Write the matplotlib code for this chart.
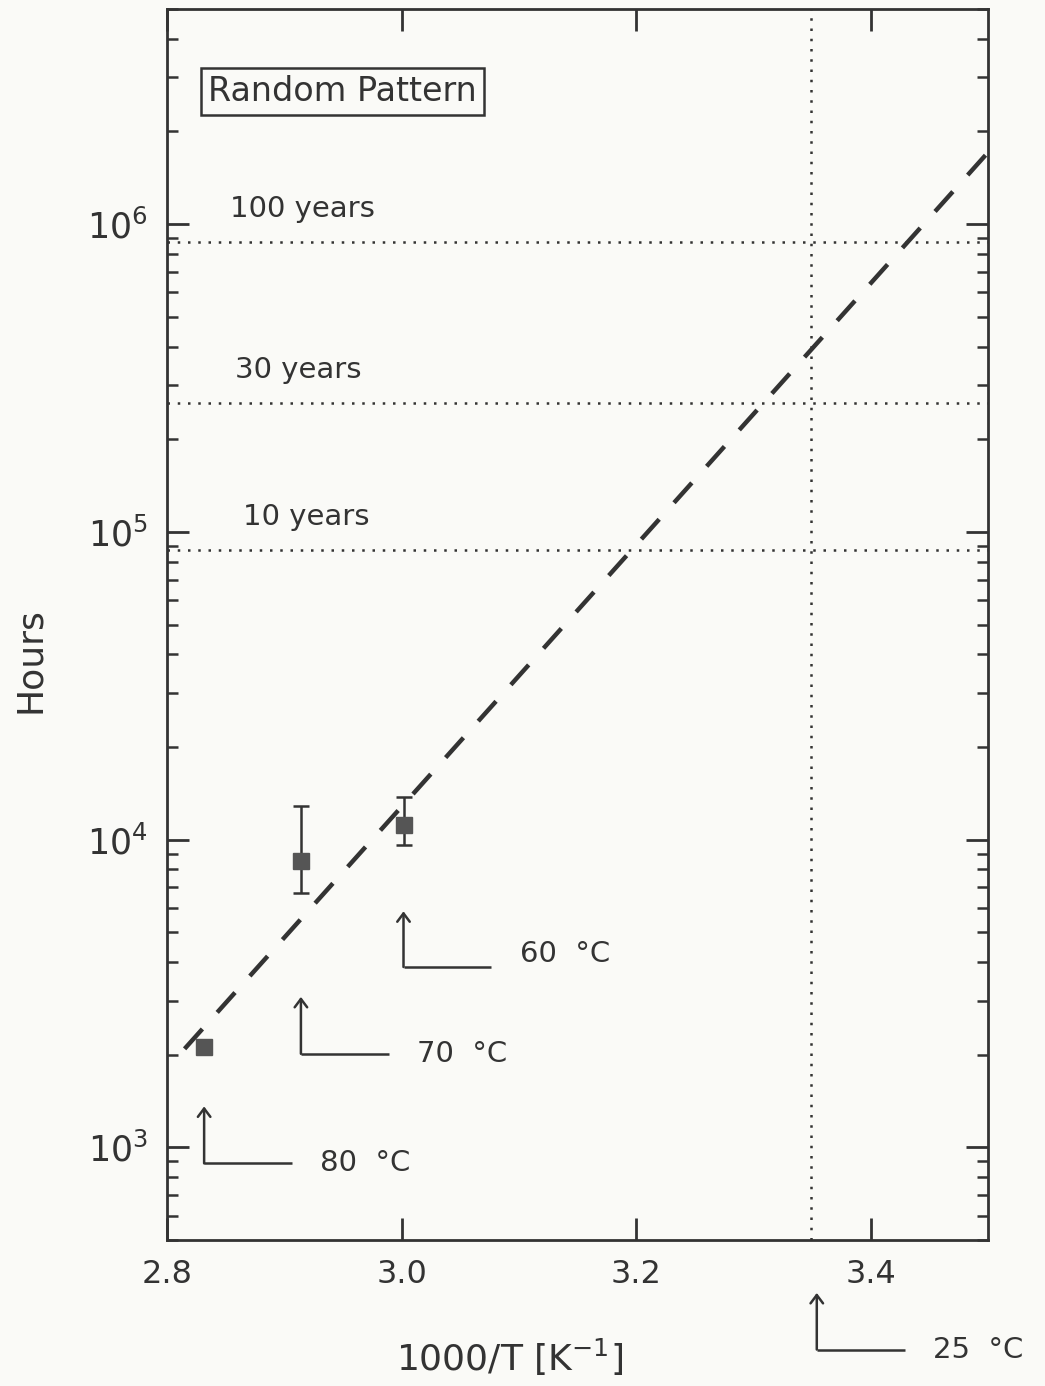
import numpy as np
import matplotlib
matplotlib.use("Agg")
import matplotlib.pyplot as plt

# measured lifetimes (hours) at test temperatures
temps_c = [80, 70, 60]
hours = [2120, 8490, 11180]
err_low = [2120, 6730, 9640]
err_high = [2120, 12900, 13780]

# fitted Arrhenius line (dashed)
fit_x = [2.815, 3.5]
fit_hours = [2090, 1.71e6]

# reference lifetimes
years = [100, 30, 10]
years_label_x = [2.854, 2.858, 2.865]
use_temp_x = 3.349

# annotation arrows: temperature, log10(tip), log10(corner)
arrow_temps = [80, 70, 60, 25]
arrow_tip = [3.133, 3.489, 3.767, 2.527]
arrow_corner = [2.948, 3.304, 3.586, 2.343]

ink = "#333333"
bg = "#fafaf7"
fs = 22

def inv_t(tc):
    return 1000.0 / (tc + 273.15)

fig = plt.figure(figsize=(10.45, 13.86), dpi=100, facecolor=bg)
ax = fig.add_axes([167/1045, 146/1386, 821/1045, 1231/1386], facecolor=bg)
ax.set_xlim(2.8, 3.5)
ax.set_ylim(500, 5e6)
ax.set_yscale("log")

x = [inv_t(t) for t in temps_c]
yerr = [np.array(hours) - np.array(err_low), np.array(err_high) - np.array(hours)]
ax.errorbar(x, hours, yerr=yerr, fmt="s", color="#555555", ms=11,
            ecolor=ink, elinewidth=1.8, capsize=6, capthick=1.8, zorder=3)

ax.plot(fit_x, fit_hours, color=ink, lw=3.2, dashes=(6, 5))

dot = (0, (1, 3.1))
for yr, lx in zip(years, years_label_x):
    h = yr * 8760
    ax.axhline(h, color=ink, lw=1.8, ls=dot)
    ax.text(lx, h * 1.28, f"{yr} years", fontsize=fs - 1, color=ink,
            va="center", ha="left")
ax.axvline(use_temp_x, color=ink, lw=1.8, ls=dot)

for t, tip, corner in zip(arrow_temps, arrow_tip, arrow_corner):
    xa = inv_t(t)
    ax.plot([xa, xa + 0.075], [10**corner, 10**corner], color=ink, lw=1.8,
            clip_on=False, solid_capstyle="butt")
    ax.annotate("", xy=(xa, 10**tip), xytext=(xa, 10**corner),
                arrowprops=dict(arrowstyle="->,head_length=0.6,head_width=0.45",
                                color=ink, lw=1.8, shrinkA=0, shrinkB=0),
                annotation_clip=False)
    ty = 10**corner * (1.1 if t == 60 else 1.0)
    ax.text(xa + 0.075 + 0.024, ty, f"{t}  °C", fontsize=fs - 1, color=ink,
            va="center", ha="left", clip_on=False)

ax.text(0.05, 0.933, "Random Pattern", transform=ax.transAxes, fontsize=fs + 2,
        color=ink, va="center", ha="left",
        bbox=dict(boxstyle="square,pad=0.22", fc=bg, ec=ink, lw=1.8))

ax.set_xticks([2.8, 3.0, 3.2, 3.4])
ax.set_xticklabels(["2.8", "3.0", "3.2", "3.4"])
ax.set_yticks([1e3, 1e4, 1e5, 1e6])
ax.set_yticklabels([r"$10^{3}$", r"$10^{4}$", r"$10^{5}$", r"$10^{6}$"])
ax.tick_params(axis="both", which="major", direction="in", length=16, width=2,
               top=True, right=True, labelsize=fs + 1, colors=ink, pad=14)
ax.tick_params(axis="y", which="major", labelsize=fs + 3)
ax.tick_params(axis="y", which="minor", direction="in", length=8, width=1.8,
               left=True, right=True, colors=ink)
ax.tick_params(axis="x", which="minor", bottom=False, top=False)
for s in ax.spines.values():
    s.set_linewidth(2)
    s.set_color(ink)

fig.text(30/1045, 1 - 660/1386, "Hours", rotation=90, fontsize=fs + 4,
         color=ink, ha="center", va="center")
fig.text(510/1045, 1 - 1357/1386, r"1000/T [K$^{-1}$]", fontsize=fs + 4,
         color=ink, ha="center", va="center")

fig.savefig("out.png", dpi=100, facecolor=bg)
